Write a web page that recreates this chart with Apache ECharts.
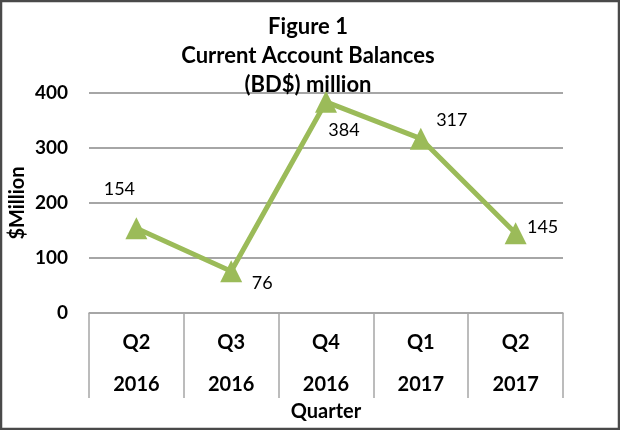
<!DOCTYPE html>
<html>
<head>
<meta charset="utf-8">
<script src="https://cdn.jsdelivr.net/npm/echarts@6/dist/echarts.min.js"></script>
<style>
  html, body { margin: 0; padding: 0; background: #fff; }
  #chart { width: 620px; height: 430px; }
</style>
</head>
<body>
<div id="chart"></div>
<script>
// data
var quarters = ['Q2', 'Q3', 'Q4', 'Q1', 'Q2'];
var years = ['2016', '2016', '2016', '2017', '2017'];
var balances = [154, 76, 384, 317, 145];
var titleLines = ['Figure 1', 'Current Account Balances', '(BD$) million'];

var green = '#9BBB59';
var grey = '#A6A6A6';
var font = 'Lato, "Open Sans", sans-serif';

// label offsets for each point (style only)
var labelOffsets = [[-17, -39], [31, 12], [18, 28], [31, -18], [27, -6]];

var chart = echarts.init(document.getElementById('chart'));

var option = {
    backgroundColor: '#fff',
    animation: false,
    title: {
        text: titleLines.join('\n'),
        left: 303,
        top: 7,
        textAlign: 'center',
        textStyle: {
            fontFamily: font,
            fontSize: 22,
            fontWeight: 'bold',
            color: '#000',
            lineHeight: 29
        }
    },
    graphic: [{
        type: 'rect',
        shape: { x: 1, y: 1, width: 618, height: 428 },
        style: { fill: 'none', stroke: '#4a4a4a', lineWidth: 2.5 },
        silent: true
    }],
    grid: {
        left: 89,
        right: 57,
        top: 93,
        bottom: 117,
        containLabel: false,
        outerBoundsMode: 'none'
    },
    xAxis: {
        type: 'category',
        data: quarters.map(function(q, i){ return q + '\n' + years[i]; }),
        boundaryGap: true,
        name: 'Quarter',
        nameLocation: 'middle',
        nameGap: 89,
        nameMoveOverlap: false,
        nameTextStyle: { fontFamily: font, fontSize: 20, fontWeight: 'bold', color: '#000' },
        axisLine: { lineStyle: { color: grey, width: 1.5 } },
        axisTick: { show: true, length: 85, lineStyle: { color: grey, width: 1.5 } },
        axisLabel: {
            margin: 9,
            interval: 0,
            fontFamily: font,
            fontSize: 20,
            fontWeight: 'bold',
            color: '#000',
            lineHeight: 42
        }
    },
    yAxis: {
        type: 'value',
        min: 0,
        max: 400,
        interval: 100,
        name: '$Million',
        nameLocation: 'middle',
        nameGap: 61,
        nameMoveOverlap: false,
        nameTextStyle: { fontFamily: font, fontSize: 20, fontWeight: 'bold', color: '#000' },
        axisLine: { show: false },
        axisTick: { show: false },
        splitLine: { lineStyle: { color: grey, width: 1.8 } },
        axisLabel: {
            margin: 21,
            fontFamily: font,
            fontSize: 19,
            fontWeight: 'bold',
            color: '#000'
        }
    },
    series: [{
        type: 'line',
        data: balances.map(function(v, i){
            return {
                value: v,
                label: { offset: labelOffsets[i] }
            };
        }),
        symbol: 'triangle',
        symbolSize: 22,
        itemStyle: { color: green },
        lineStyle: { color: green, width: 5 },
        label: {
            show: true,
            position: 'inside',
            fontFamily: font,
            fontSize: 18,
            color: '#000'
        }
    }]
};
chart.setOption(option);
</script>
</body>
</html>
